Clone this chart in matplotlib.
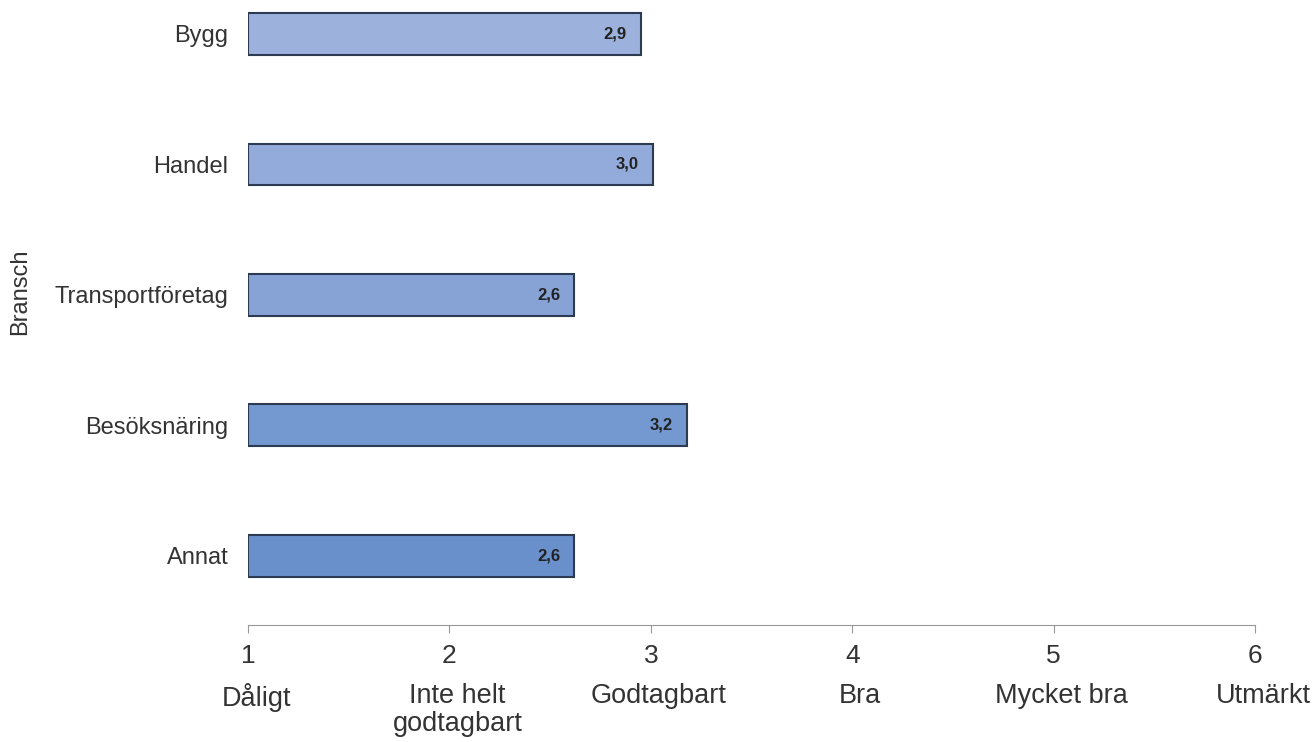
import matplotlib.pyplot as plt
from matplotlib.transforms import blended_transform_factory, offset_copy

plt.rcParams["font.family"] = ["Liberation Sans", "DejaVu Sans"]

# ----------------------------------
# Data
# ----------------------------------

branscher = ["Bygg", "Handel", "Transportföretag", "Besöksnäring", "Annat"]
medel = [2.95, 3.01, 2.62, 3.18, 2.62]
etiketter = ["2,9", "3,0", "2,6", "3,2", "2,6"]

skala = [1, 2, 3, 4, 5, 6]
skala_text = ["Dåligt", "Inte helt\ngodtagbart", "Godtagbart", "Bra",
              "Mycket bra", "Utmärkt"]

bar_colors = ["#9cb2dc", "#93abda", "#87a3d6", "#7498d0", "#6a90cc"]

# ----------------------------------
# Plot
# ----------------------------------

fig = plt.figure(figsize=(13.15, 7.42), dpi=100)
ax = fig.add_axes([248 / 1315, 117 / 742, 1007 / 1315, 625 / 742])

ypos = list(range(len(branscher)))[::-1]

ax.barh(ypos, [m - 1 for m in medel], left=1, height=0.32,
        color=bar_colors, edgecolor="#2c3a52", linewidth=1.5)

for y, m, lab in zip(ypos, medel, etiketter):
    ax.text(m - 0.07, y, lab, ha="right", va="center",
            fontsize=12, fontweight="bold", color="#222222")

ax.set_xlim(1, 6)
ax.set_ylim(-0.53, 4.26)

ax.set_yticks(ypos)
ax.set_yticklabels(branscher, fontsize=17, color="#333333")
ax.tick_params(axis="y", length=0, pad=14)

ax.set_xticks(skala)
ax.set_xticklabels([str(s) for s in skala], fontsize=19, color="#333333")
ax.tick_params(axis="x", direction="out", length=6, color="#999999",
               pad=8)

for side in ["top", "right", "left"]:
    ax.spines[side].set_visible(False)
ax.spines["bottom"].set_color("#999999")

# verbal scale labels below the numbers
trans = blended_transform_factory(ax.transData, fig.transFigure)
trans = offset_copy(trans, fig=fig, x=8, y=0, units="dots")
for s, txt in zip(skala, skala_text):
    ax.text(s, 1 - 683 / 742, txt, transform=trans, ha="center", va="top",
            fontsize=19.5, color="#333333", linespacing=1.1)

fig.text(20 / 1315, 1 - 292 / 742, "Bransch", rotation=90, ha="center",
         va="center", fontsize=17, color="#333333")

fig.savefig("out.png", dpi=100)
